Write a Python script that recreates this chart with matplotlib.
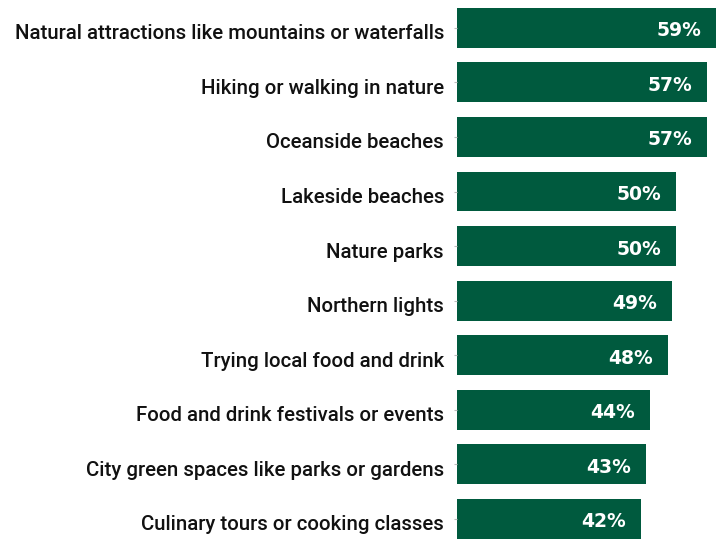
import matplotlib.pyplot as plt
from matplotlib.transforms import ScaledTranslation, blended_transform_factory

categories = [
    "Natural attractions like mountains or waterfalls",
    "Hiking or walking in nature",
    "Oceanside beaches",
    "Lakeside beaches",
    "Nature parks",
    "Northern lights",
    "Trying local food and drink",
    "Food and drink festivals or events",
    "City green spaces like parks or gardens",
    "Culinary tours or cooking classes",
]
values = [59, 57, 57, 50, 50, 49, 48, 44, 43, 42]

bar_color = "#005A3E"
plt.rcParams["font.family"] = ["Roboto", "DejaVu Sans"]

fig = plt.figure(figsize=(7.22, 5.4), dpi=100)
ax = fig.add_axes([457 / 722, 0, 1 - 457 / 722, 1])

pos = list(range(len(categories)))
ax.barh(pos, values, height=0.73, color=bar_color)

# the labels in the original sit a few pixels below the bar centres
down_val = ScaledTranslation(0, -3 / 100, fig.dpi_scale_trans)
for y, v in zip(pos, values):
    ax.text(v - 3.4, y, f"{v}%", ha="right", va="center", color="white",
            fontsize=13.5, fontweight="bold", family="DejaVu Sans",
            transform=ax.transData + down_val)

lab_tr = blended_transform_factory(ax.transAxes, ax.transData) + \
    ScaledTranslation(-13 / 100, -6 / 100, fig.dpi_scale_trans)
for y, name in zip(pos, categories):
    ax.text(0, y, name, ha="right", va="center", fontsize=14.7,
            fontweight="medium", color="#111111", transform=lab_tr)

ax.set_yticks(pos)
ax.set_yticklabels([])
ax.tick_params(axis="y", length=2, color="#bbbbbb")
ax.set_xticks([])
ax.set_xlim(0, 60.4)
ax.set_ylim(9.385, -0.51)
for s in ax.spines.values():
    s.set_visible(False)

fig.savefig("out.png", dpi=100)
